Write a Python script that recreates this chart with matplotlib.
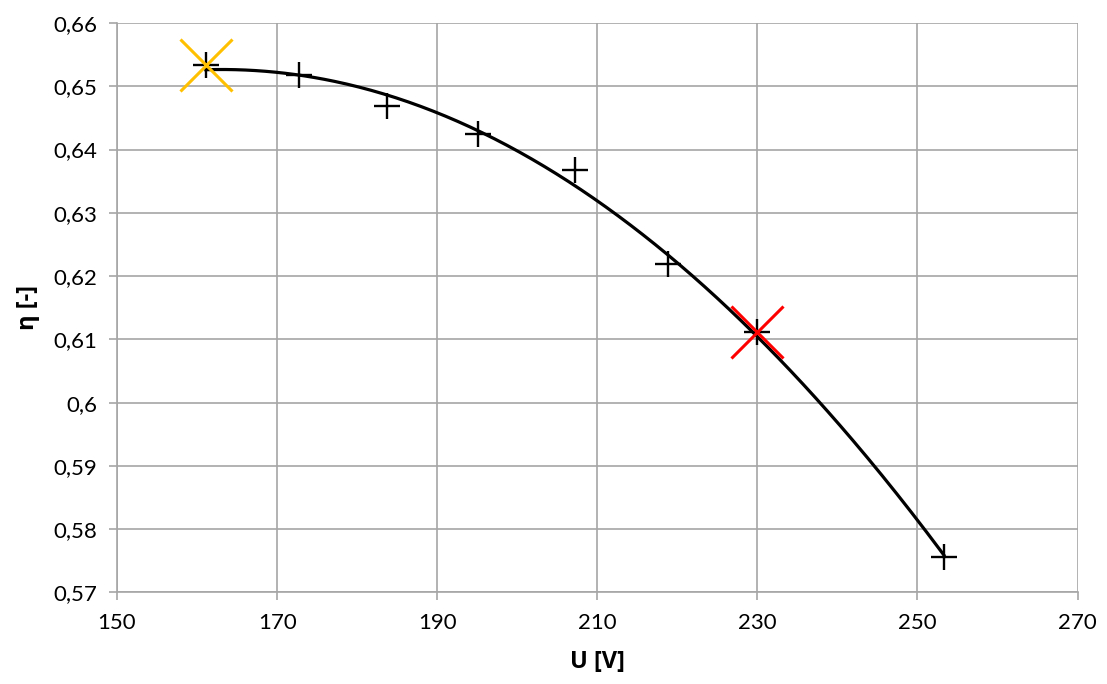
import numpy as np
import matplotlib
matplotlib.use("Agg")
import matplotlib.pyplot as plt

plt.rcParams['font.family'] = ['Lato', 'DejaVu Sans']

U = [161.1, 172.7, 183.7, 195.1, 207.2, 218.8, 230.0, 253.3]
eta = [0.6533, 0.6518, 0.6469, 0.6425, 0.6368, 0.6219, 0.6112, 0.5756]
hl_orange = (161.1, 0.6533)
hl_red = (230.0, 0.6112)
xticks = [150, 170, 190, 210, 230, 250, 270]
yticks = [0.57, 0.58, 0.59, 0.60, 0.61, 0.62, 0.63, 0.64, 0.65, 0.66]
ytick_labels = ['0,57', '0,58', '0,59', '0,6', '0,61', '0,62', '0,63', '0,64', '0,65', '0,66']

fig = plt.figure(figsize=(11.07, 6.84), dpi=100)
ax = fig.add_axes([0.1057, 0.1338, 0.8677, 0.8326])

# trendline (2nd order polynomial, as Excel)
coef = np.polyfit(U, eta, 2)
xs = np.linspace(min(U), max(U), 300)
ax.plot(xs, np.polyval(coef, xs), color='black', lw=2.3, zorder=3)

ax.plot(U, eta, linestyle='none', marker='+', markersize=19, markeredgewidth=1.7,
        color='black', zorder=4)
ax.plot([hl_orange[0]], [hl_orange[1]], linestyle='none', marker='x', markersize=38,
        markeredgewidth=2.2, color='#FFC000', zorder=5)
ax.plot([hl_red[0]], [hl_red[1]], linestyle='none', marker='x', markersize=38,
        markeredgewidth=2.2, color='#FF0000', zorder=5)

ax.set_xlim(150, 270)
ax.set_ylim(0.57, 0.66)
ax.set_xticks(xticks)
ax.set_xticklabels([str(t) for t in xticks])
ax.set_yticks(yticks)
ax.set_yticklabels(ytick_labels)
ax.grid(True, color='#A6A6A6', lw=1.2, zorder=0)
ax.set_axisbelow(True)
for s in ax.spines.values():
    s.set_visible(False)
ax.spines['left'].set_visible(True)
ax.spines['bottom'].set_visible(True)
ax.spines['left'].set_color('#A6A6A6')
ax.spines['bottom'].set_color('#A6A6A6')
ax.spines['left'].set_linewidth(1.2)
ax.spines['bottom'].set_linewidth(1.2)
ax.tick_params(axis='both', colors='#A6A6A6', length=6, width=1.2, labelsize=16,
               labelcolor='black', pad=8)
ax.tick_params(axis='x', pad=9)

lab_font = dict(fontsize=17, fontweight='bold', family=['Open Sans', 'DejaVu Sans'])
ax.set_xlabel('U [V]', labelpad=12, **lab_font)
ax.set_ylabel('η [-]', labelpad=10, **lab_font)

fig.savefig('out.png', dpi=100)
